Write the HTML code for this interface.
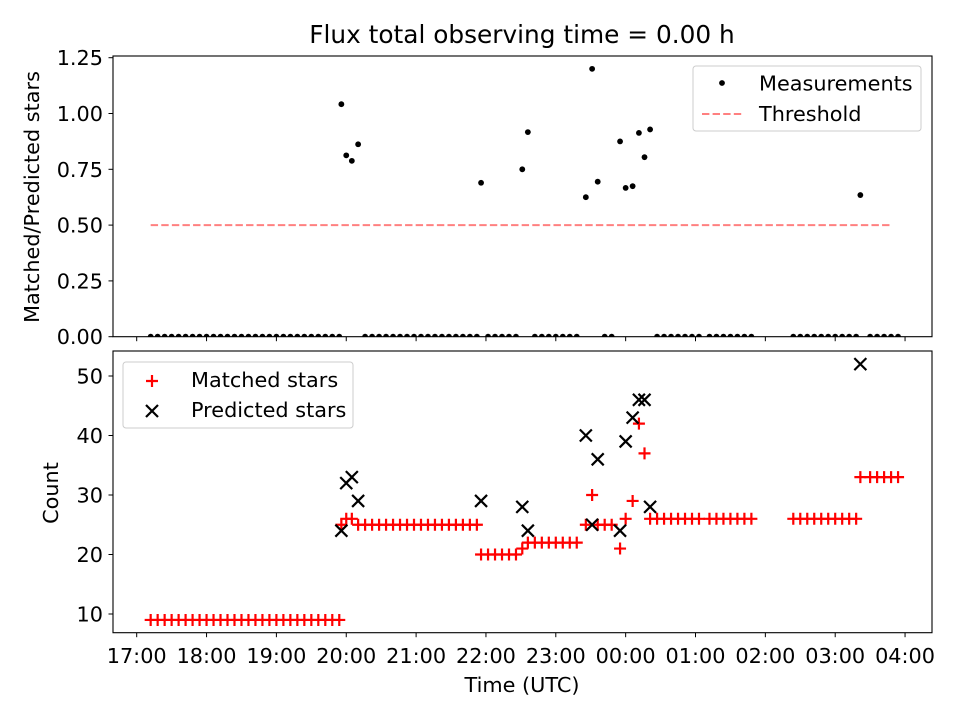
<!DOCTYPE html>
<html><head><meta charset="utf-8"><style>
html,body{margin:0;padding:0;background:#fff;}
svg{display:block;font-family:"DejaVu Sans","Liberation Sans",sans-serif;}
</style></head><body>
<svg id="chart" width="960" height="720" viewBox="0 0 960 720">
<defs>
<clipPath id="clipTop"><rect x="113" y="56" width="819" height="281"/></clipPath>
<clipPath id="clipBot"><rect x="113" y="351" width="819" height="282"/></clipPath>
</defs>
<rect x="0" y="0" width="960" height="720" fill="#fff"/>
<text x="522" y="43" font-size="24.8" text-anchor="middle">Flux total observing time = 0.00 h</text>
<g id="gTop"></g>
<g id="gBot"></g>
<text transform="translate(39,197) rotate(-90)" font-size="20.8" text-anchor="middle">Matched/Predicted stars</text>
<text transform="translate(58,493) rotate(-90)" font-size="20.8" text-anchor="middle">Count</text>
<text x="522" y="692" font-size="20.8" text-anchor="middle">Time (UTC)</text>
</svg>
<script>
// times in hours since 00:00 of first day (values > 24 are after midnight)
const times = [17.2,17.3,17.4,17.5,17.6,17.7,17.8,17.9,18.0,18.1,18.2,18.3,18.4,18.5,18.6,18.7,18.8,18.9,19.0,19.1,19.2,19.3,19.4,19.5,19.6,19.7,19.8,19.9,
 19.93,20.0,20.08,20.17,
 20.27,20.37,20.47,20.57,20.67,20.77,20.87,20.97,21.07,21.17,21.27,21.37,21.47,21.57,21.67,21.77,21.87,
 21.93,22.03,22.13,22.23,22.33,22.43,
 22.52,22.6,22.7,22.8,22.9,23.0,23.1,23.2,23.3,
 23.43,23.52,23.6,23.7,23.8,
 23.92,24.0,24.1,24.19,24.27,24.35,
 24.45,24.55,24.65,24.75,24.85,24.95,25.05,
 25.2,25.3,25.4,25.5,25.6,25.7,25.8,
 26.4,26.5,26.6,26.7,26.8,26.9,27.0,27.1,27.2,27.3,
 27.36,27.5,27.6,27.7,27.8,27.9];
const matched = [9,9,9,9,9,9,9,9,9,9,9,9,9,9,9,9,9,9,9,9,9,9,9,9,9,9,9,9,
 25,26,26,25,
 25,25,25,25,25,25,25,25,25,25,25,25,25,25,25,25,25,
 20,20,20,20,20,20,
 21,22,22,22,22,22,22,22,22,
 25,30,25,25,25,
 21,26,29,42,37,26,
 26,26,26,26,26,26,26,
 26,26,26,26,26,26,26,
 26,26,26,26,26,26,26,26,26,26,
 33,33,33,33,33,33];
// 0 = no predicted star count plotted
const predicted = [0,0,0,0,0,0,0,0,0,0,0,0,0,0,0,0,0,0,0,0,0,0,0,0,0,0,0,0,
 24,32,33,29,
 0,0,0,0,0,0,0,0,0,0,0,0,0,0,0,0,0,
 29,0,0,0,0,0,
 28,24,0,0,0,0,0,0,0,
 40,25,36,0,0,
 24,39,43,46,46,28,
 0,0,0,0,0,0,0,
 0,0,0,0,0,0,0,
 0,0,0,0,0,0,0,0,0,0,
 52,0,0,0,0,0];
const threshold = 0.5;
const xTickHours = [17,18,19,20,21,22,23,24,25,26,27,28];
const xTickLabels = ["17:00","18:00","19:00","20:00","21:00","22:00","23:00","00:00","01:00","02:00","03:00","04:00"];
const topTicks = [0,0.25,0.5,0.75,1.0,1.25];
const topTickLabels = ["0.00","0.25","0.50","0.75","1.00","1.25"];
const botTicks = [10,20,30,40,50];

const NS="http://www.w3.org/2000/svg";
const FS = 20.8;
const X = h => 136.7 + (h-17)*69.85;
const YT = v => 336.7 - v*223.2;
const YB = v => 614 - (v-10)*5.95;
function mk(tag, attrs, parent){const e=document.createElementNS(NS,tag);for(const k in attrs)e.setAttribute(k,attrs[k]);parent.appendChild(e);return e;}
const gT=document.getElementById('gTop'), gB=document.getElementById('gBot');

// --- top panel ---
const tc = mk('g',{'clip-path':'url(#clipTop)'},gT);
let th = mk('line',{x1:X(times[0]),x2:X(27.8),y1:YT(threshold),y2:YT(threshold),stroke:'#ff8080','stroke-width':2,'stroke-dasharray':'7.4,3.2'},tc);


times.forEach((t,i)=>{
  const r = predicted[i] ? matched[i]/predicted[i] : 0;
  const c = mk('circle',{cx:X(t),cy:YT(r),r:2.9,fill:'#000'},tc);
  
  
});
mk('rect',{x:113,y:56,width:819,height:280.7,fill:'none',stroke:'#000','stroke-width':1.1},gT);
topTicks.forEach((v,i)=>{
  mk('line',{x1:108.5,x2:113,y1:YT(v),y2:YT(v),stroke:'#000','stroke-width':1},gT);
  const l=mk('text',{x:103,y:YT(v)+7.5,'font-size':FS,'text-anchor':'end'},gT);l.textContent=topTickLabels[i];
  
  
});
xTickHours.forEach(h=>{mk('line',{x1:X(h),x2:X(h),y1:336.7,y2:341.2,stroke:'#000','stroke-width':1},gT);});
// top legend
const lg1=mk('g',{},gT);


mk('rect',{x:693,y:66,width:228,height:65,rx:3,fill:'#fff',stroke:'#ccc','stroke-width':1},lg1);
mk('circle',{cx:722,cy:83,r:2.9,fill:'#000'},lg1);
let t1=mk('text',{x:759,y:90.5,'font-size':FS},lg1);t1.textContent='Measurements';


mk('line',{x1:702,x2:742,y1:114,y2:114,stroke:'#ff8080','stroke-width':2,'stroke-dasharray':'7.4,3.2'},lg1);
let t2=mk('text',{x:759,y:121,'font-size':FS},lg1);t2.textContent='Threshold';



// --- bottom panel ---
const bc = mk('g',{'clip-path':'url(#clipBot)'},gB);
function plus(x,y,p){mk('path',{d:`M${x-6},${y}H${x+6}M${x},${y-6}V${y+6}`,stroke:'#f00','stroke-width':2.2,fill:'none'},p);}
function cross(x,y,p){mk('path',{d:`M${x-6},${y-6}L${x+6},${y+6}M${x-6},${y+6}L${x+6},${y-6}`,stroke:'#000','stroke-width':2.2,fill:'none'},p);}
times.forEach((t,i)=>{
  const g=mk('g',{},bc);
  
  
  plus(X(t),YB(matched[i]),g);
});
times.forEach((t,i)=>{
  if(!predicted[i]) return;
  const g=mk('g',{},bc);
  
  
  cross(X(t),YB(predicted[i]),g);
});
mk('rect',{x:113,y:351,width:819,height:281.7,fill:'none',stroke:'#000','stroke-width':1.1},gB);
botTicks.forEach(v=>{
  mk('line',{x1:108.5,x2:113,y1:YB(v),y2:YB(v),stroke:'#000','stroke-width':1},gB);
  const l=mk('text',{x:103,y:YB(v)+7.5,'font-size':FS,'text-anchor':'end'},gB);l.textContent=String(v);
  
  
});
xTickHours.forEach((h,i)=>{
  mk('line',{x1:X(h),x2:X(h),y1:632.7,y2:637.2,stroke:'#000','stroke-width':1},gB);
  const l=mk('text',{x:X(h),y:663,'font-size':FS,'text-anchor':'middle'},gB);l.textContent=xTickLabels[i];
  
  
});
const lg2=mk('g',{},gB);


mk('rect',{x:123,y:362,width:230,height:66,rx:3,fill:'#fff',stroke:'#ccc','stroke-width':1},lg2);
plus(152,381,lg2);
let t3=mk('text',{x:191,y:387,'font-size':FS},lg2);t3.textContent='Matched stars';


cross(152,411,lg2);
let t4=mk('text',{x:191,y:417,'font-size':FS},lg2);t4.textContent='Predicted stars';


</script>
</body></html>
